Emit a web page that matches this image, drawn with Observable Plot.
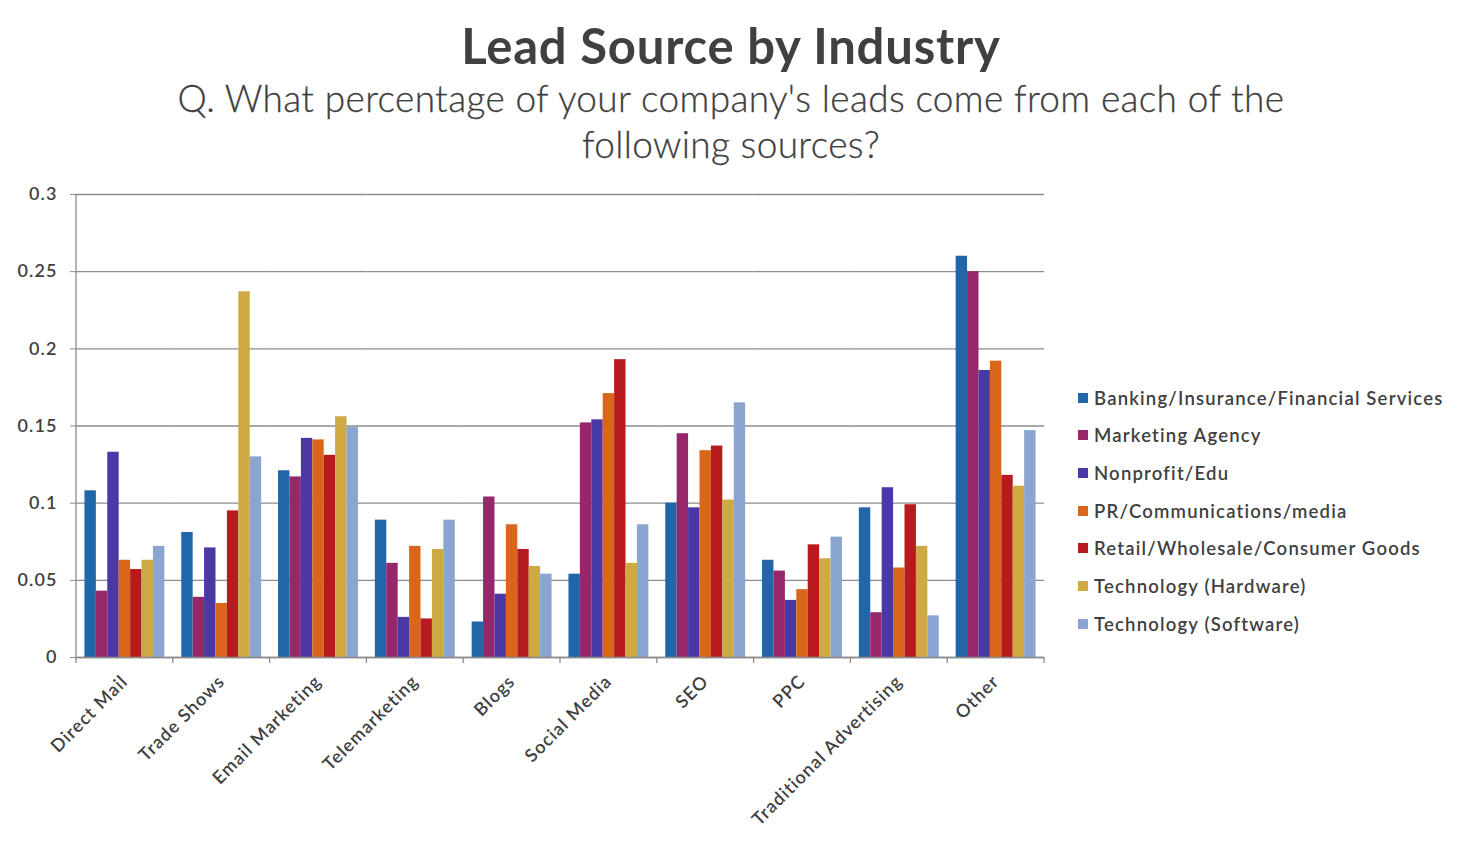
<!DOCTYPE html>
<html>
<head>
<meta charset="utf-8">
<script src="https://cdn.jsdelivr.net/npm/d3@7"></script>
<script src="https://cdn.jsdelivr.net/npm/@observablehq/plot@0.6"></script>
<style>
  body { margin: 0; background: #fff; }
  #wrap { position: relative; width: 1462px; height: 855px; overflow: hidden; font-family: Lato, "Open Sans", sans-serif; color: #404040; }
  #title { position: absolute; left: 0; width: 1462px; top: 15px; text-align: center; font-size: 49px; font-weight: 700; letter-spacing: 0.8px; line-height: 60px; color: #404040; }
  #subtitle { position: absolute; left: 0; width: 1462px; top: 75px; text-align: center; font-size: 37px; font-weight: 300; letter-spacing: 0.35px; line-height: 46px; color: #404040; -webkit-text-stroke: 0.3px #404040; }
  #chart { position: absolute; left: 0; top: 175px; }
  #legend { position: absolute; left: 1078px; top: 379px; font-size: 18.5px; font-weight: 600; letter-spacing: 1.2px; color: #404040; }
  .li { height: 37.67px; display: flex; align-items: center; white-space: nowrap; }
  .sw { width: 10px; height: 10px; margin-right: 6px; flex: none; }
</style>
</head>
<body>
<div id="wrap">
  <div id="title">Lead Source by Industry</div>
  <div id="subtitle">Q. What percentage of your company's leads come from each of the<br>following sources?</div>
  <div id="chart"></div>
  <div id="legend"></div>
</div>
<script>
const categories = ["Direct Mail", "Trade Shows", "Email Marketing", "Telemarketing", "Blogs", "Social Media", "SEO", "PPC", "Traditional Advertising", "Other"];
const series = ["Banking/Insurance/Financial Services", "Marketing Agency", "Nonprofit/Edu", "PR/Communications/media", "Retail/Wholesale/Consumer Goods", "Technology (Hardware)", "Technology (Software)"];
const colors = ["#2066a8", "#95286a", "#4a38a6", "#da661c", "#b81b1e", "#cfa944", "#8aa5cf"];

const banking   = [0.108, 0.081, 0.121, 0.089, 0.023, 0.054, 0.100, 0.063, 0.097, 0.260];
const marketing = [0.043, 0.039, 0.117, 0.061, 0.104, 0.152, 0.145, 0.056, 0.029, 0.250];
const nonprofit = [0.133, 0.071, 0.142, 0.026, 0.041, 0.154, 0.097, 0.037, 0.110, 0.186];
const prComm    = [0.063, 0.035, 0.141, 0.072, 0.086, 0.171, 0.134, 0.044, 0.058, 0.192];
const retail    = [0.057, 0.095, 0.131, 0.025, 0.070, 0.193, 0.137, 0.073, 0.099, 0.118];
const techHW    = [0.063, 0.237, 0.156, 0.070, 0.059, 0.061, 0.102, 0.064, 0.072, 0.111];
const techSW    = [0.072, 0.130, 0.149, 0.089, 0.054, 0.086, 0.165, 0.078, 0.027, 0.147];
const yTicks = [0, 0.05, 0.1, 0.15, 0.2, 0.25, 0.3];

const seriesValues = [banking, marketing, nonprofit, prComm, retail, techHW, techSW];
const rows = [];
categories.forEach((c, i) => series.forEach((s, j) => rows.push({category: c, series: s, value: seriesValues[j][i]})));

const font = "Lato, 'Open Sans', sans-serif";
const gridColor = "#8c8c8c";

const plot = Plot.plot({
  width: 1462,
  height: 680,
  marginLeft: 76,
  marginRight: 418,
  marginTop: 19,
  marginBottom: 198,
  style: {fontFamily: font, fontSize: "18px", fontWeight: 600, letterSpacing: "1.1px", color: "#404040", background: "white"},
  fx: {domain: categories, padding: 0, round: false, label: null, tickRotate: -45, tickSize: 0, tickPadding: 21},
  x: {domain: series, paddingInner: 0, paddingOuter: 0.74, round: false, axis: null},
  y: {domain: [0, 0.3], label: null, axis: null},
  color: {domain: series, range: colors},
  marks: [
    Plot.gridY(yTicks, {stroke: gridColor, strokeOpacity: 1, strokeWidth: 1.3}),
    Plot.axisY(yTicks, {tickFormat: d => String(d), tickSize: 6, tickPadding: 13, stroke: gridColor, label: null}),
    Plot.barY(rows, {fx: "category", x: "series", y: "value", fill: "series"}),
    Plot.ruleY([0], {stroke: gridColor, strokeWidth: 1.3})
  ]
});
document.getElementById("chart").appendChild(plot);

// Axis line on the left and category boundary ticks, from the plot's own scales
const fxScale = Plot.scale({fx: plot.scale("fx")});
const yScale = Plot.scale({y: plot.scale("y")});
const bw = fxScale.bandwidth;
const svg = d3.select(plot);
const g = svg.append("g").attr("stroke", gridColor).attr("stroke-width", 1.3);
const x0 = fxScale.apply(categories[0]);
g.append("line").attr("x1", x0).attr("x2", x0).attr("y1", yScale.apply(0.3)).attr("y2", yScale.apply(0));
const bounds = categories.map(c => fxScale.apply(c)).concat([fxScale.apply(categories[categories.length - 1]) + bw]);
bounds.forEach(b => g.append("line").attr("x1", b).attr("x2", b).attr("y1", yScale.apply(0)).attr("y2", yScale.apply(0) + 6));

// Legend
const legend = d3.select("#legend");
series.forEach((s, i) => {
  const row = legend.append("div").attr("class", "li");
  row.append("div").attr("class", "sw").style("background", colors[i]);
  row.append("span").text(s);
});
</script>
</body>
</html>
